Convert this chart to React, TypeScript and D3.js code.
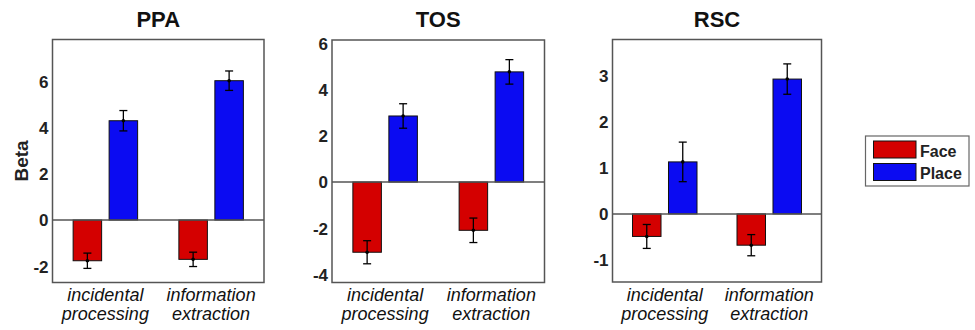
import * as d3 from 'd3';

const conditions = ['incidental processing', 'information extraction'];
const series = ['Face', 'Place'];
const seriesColors = ['#d40000', '#0b0bf2'];

const regions = ['PPA', 'TOS', 'RSC'];

const ppaFace = [-1.76, -1.7];
const ppaFaceErr = [0.33, 0.31];
const ppaPlace = [4.29, 6.02];
const ppaPlaceErr = [0.44, 0.42];

const tosFace = [-3.04, -2.09];
const tosFaceErr = [0.5, 0.53];
const tosPlace = [2.86, 4.77];
const tosPlaceErr = [0.53, 0.53];

const rscFace = [-0.49, -0.68];
const rscFaceErr = [0.26, 0.23];
const rscPlace = [1.13, 2.93];
const rscPlaceErr = [0.43, 0.33];

const ppaTicks = [-2, 0, 2, 4, 6];
const tosTicks = [-4, -2, 0, 2, 4, 6];
const rscTicks = [-1, 0, 1, 2, 3];

const FONT = '"Liberation Sans", Arial, Helvetica, sans-serif';

interface PanelProps {
  title: string;
  frame: { left: number; right: number; top: number; bottom: number };
  domain: [number, number];
  ticks: number[];
  values: number[][];
  errors: number[][];
}

function Panel({ title, frame, domain, ticks, values, errors }: PanelProps) {
  const y = d3.scaleLinear().domain(domain).range([frame.bottom, frame.top]);
  const x0 = d3
    .scaleBand<string>()
    .domain(conditions)
    .range([frame.left, frame.right]);
  const x1 = d3
    .scaleBand<string>()
    .domain(series)
    .range([-32.25, 32.25])
    .paddingInner(0.208);
  const bw = x1.bandwidth();
  const midX = (frame.left + frame.right) / 2;

  return (
    <g>
      <text
        x={midX}
        y={27.3}
        textAnchor="middle"
        fontFamily={FONT}
        fontWeight="bold"
        fontSize={22}
        fill="#111"
      >
        {title}
      </text>
      {ticks.map((t) => (
        <text
          key={t}
          x={frame.left - 4}
          y={y(t)}
          dy="0.38em"
          textAnchor="end"
          fontFamily={FONT}
          fontWeight="bold"
          fontSize={17}
          fill="#222"
        >
          {String(t)}
        </text>
      ))}
      {conditions.map((c, ci) => {
        const cx = x0(c)! + x0.bandwidth() / 2;
        return series.map((s, si) => {
          const v = values[si][ci];
          const e = errors[si][ci];
          const bx = cx + x1(s)!;
          const bcx = bx + bw / 2;
          return (
            <g key={c + s}>
              <rect
                x={bx}
                y={Math.min(y(v), y(0))}
                width={bw}
                height={Math.abs(y(v) - y(0))}
                fill={seriesColors[si]}
                stroke="#111"
                strokeWidth={1}
              />
              <line x1={bcx} x2={bcx} y1={y(v - e)} y2={y(v + e)} stroke="#000" strokeWidth={1.3} />
              <line x1={bcx - 4} x2={bcx + 4} y1={y(v - e)} y2={y(v - e)} stroke="#000" strokeWidth={1.3} />
              <line x1={bcx - 4} x2={bcx + 4} y1={y(v + e)} y2={y(v + e)} stroke="#000" strokeWidth={1.3} />
              <circle cx={bcx} cy={y(v)} r={1.8} fill="#000" />
            </g>
          );
        });
      })}
      <line
        x1={frame.left}
        x2={frame.right}
        y1={y(0)}
        y2={y(0)}
        stroke="#555"
        strokeWidth={1.5}
      />
      <rect
        x={frame.left}
        y={frame.top}
        width={frame.right - frame.left}
        height={frame.bottom - frame.top}
        fill="none"
        stroke="#555"
        strokeWidth={1.5}
      />
      {conditions.map((c) => {
        const cx = x0(c)! + x0.bandwidth() / 2;
        const [l1, l2] = c.split(' ');
        return (
          <text
            key={c}
            textAnchor="middle"
            fontFamily={FONT}
            fontStyle="italic"
            fontSize={18}
            fill="#111"
          >
            <tspan x={cx} y={301}>{l1}</tspan>
            <tspan x={cx} y={319.5}>{l2}</tspan>
          </text>
        );
      })}
    </g>
  );
}

export default function App() {
  return (
    <svg
      width={975}
      height={330}
      style={{ position: 'absolute', left: 0, top: 0, background: '#fff' }}
    >
      <rect width={975} height={330} fill="#fff" />
      <text
        transform="translate(28,161) rotate(-90)"
        textAnchor="middle"
        fontFamily={FONT}
        fontWeight="bold"
        fontSize={19}
        fill="#222"
      >
        Beta
      </text>
      <Panel
        title={regions[0]}
        frame={{ left: 52.5, right: 264, top: 39.5, bottom: 282.5 }}
        domain={[-2.7, 7.8]}
        ticks={ppaTicks}
        values={[ppaFace, ppaPlace]}
        errors={[ppaFaceErr, ppaPlaceErr]}
      />
      <Panel
        title={regions[1]}
        frame={{ left: 332, right: 544.5, top: 40, bottom: 282.5 }}
        domain={[-4.35, 6.15]}
        ticks={tosTicks}
        values={[tosFace, tosPlace]}
        errors={[tosFaceErr, tosPlaceErr]}
      />
      <Panel
        title={regions[2]}
        frame={{ left: 612.5, right: 821.5, top: 39.5, bottom: 282 }}
        domain={[-1.48, 3.79]}
        ticks={rscTicks}
        values={[rscFace, rscPlace]}
        errors={[rscFaceErr, rscPlaceErr]}
      />
      <g>
        <rect x={865.5} y={136} width={103.5} height={50} fill="#fff" stroke="#666" strokeWidth={1.2} />
        {series.map((s, i) => (
          <g key={s}>
            <rect
              x={873.5}
              y={141 + i * 22.5}
              width={42.5}
              height={17}
              fill={seriesColors[i]}
              stroke="#111"
              strokeWidth={1}
            />
            <text
              x={920}
              y={157 + i * 22}
              fontFamily={FONT}
              fontWeight="bold"
              fontSize={16}
              fill="#222"
            >
              {s}
            </text>
          </g>
        ))}
      </g>
    </svg>
  );
}
